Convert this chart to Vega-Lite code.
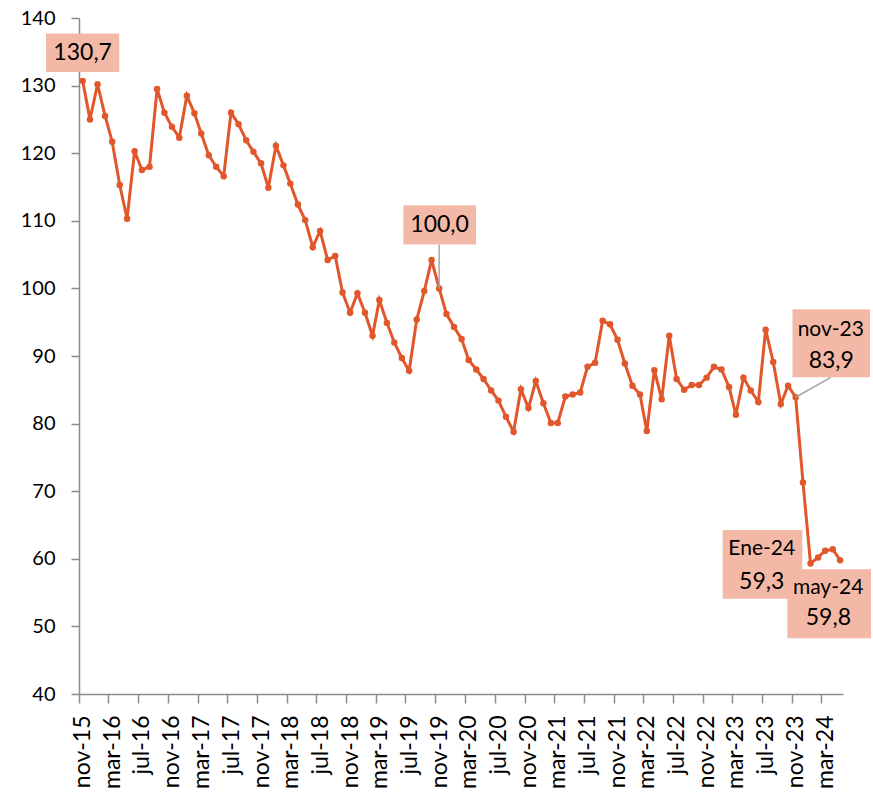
{
  "$schema": "https://vega.github.io/schema/vega-lite/v6.json",
  "width": 764,
  "height": 676,
  "autosize": {"type": "none"},
  "padding": {"left": 79, "top": 18, "right": 30, "bottom": 100},
  "background": "white",
  "config": {
    "view": {"stroke": null},
    "font": "Lato",
    "axis": {
      "domainColor": "#8c8c8c",
      "domainWidth": 1.5,
      "tickColor": "#8c8c8c",
      "tickWidth": 1.5,
      "tickSize": 8,
      "grid": false,
      "labelColor": "#000000",
      "labelFont": "Lato",
      "title": null
    }
  },
  "datasets": {
    "serie": [
      {"fecha": "2015-11-01", "valor": 130.7},
      {"fecha": "2015-12-01", "valor": 125.0},
      {"fecha": "2016-01-01", "valor": 130.2},
      {"fecha": "2016-02-01", "valor": 125.5},
      {"fecha": "2016-03-01", "valor": 121.7},
      {"fecha": "2016-04-01", "valor": 115.3},
      {"fecha": "2016-05-01", "valor": 110.3},
      {"fecha": "2016-06-01", "valor": 120.3},
      {"fecha": "2016-07-01", "valor": 117.5},
      {"fecha": "2016-08-01", "valor": 118.0},
      {"fecha": "2016-09-01", "valor": 129.5},
      {"fecha": "2016-10-01", "valor": 126.0},
      {"fecha": "2016-11-01", "valor": 123.9},
      {"fecha": "2016-12-01", "valor": 122.3},
      {"fecha": "2017-01-01", "valor": 128.5},
      {"fecha": "2017-02-01", "valor": 125.9},
      {"fecha": "2017-03-01", "valor": 122.9},
      {"fecha": "2017-04-01", "valor": 119.7},
      {"fecha": "2017-05-01", "valor": 118.0},
      {"fecha": "2017-06-01", "valor": 116.6},
      {"fecha": "2017-07-01", "valor": 126.0},
      {"fecha": "2017-08-01", "valor": 124.3},
      {"fecha": "2017-09-01", "valor": 121.9},
      {"fecha": "2017-10-01", "valor": 120.2},
      {"fecha": "2017-11-01", "valor": 118.5},
      {"fecha": "2017-12-01", "valor": 114.9},
      {"fecha": "2018-01-01", "valor": 121.1},
      {"fecha": "2018-02-01", "valor": 118.2},
      {"fecha": "2018-03-01", "valor": 115.5},
      {"fecha": "2018-04-01", "valor": 112.4},
      {"fecha": "2018-05-01", "valor": 110.1},
      {"fecha": "2018-06-01", "valor": 106.1},
      {"fecha": "2018-07-01", "valor": 108.5},
      {"fecha": "2018-08-01", "valor": 104.2},
      {"fecha": "2018-09-01", "valor": 104.8},
      {"fecha": "2018-10-01", "valor": 99.4},
      {"fecha": "2018-11-01", "valor": 96.4},
      {"fecha": "2018-12-01", "valor": 99.3},
      {"fecha": "2019-01-01", "valor": 96.4},
      {"fecha": "2019-02-01", "valor": 93.0},
      {"fecha": "2019-03-01", "valor": 98.3},
      {"fecha": "2019-04-01", "valor": 94.9},
      {"fecha": "2019-05-01", "valor": 92.0},
      {"fecha": "2019-06-01", "valor": 89.7},
      {"fecha": "2019-07-01", "valor": 87.8},
      {"fecha": "2019-08-01", "valor": 95.4},
      {"fecha": "2019-09-01", "valor": 99.6},
      {"fecha": "2019-10-01", "valor": 104.2},
      {"fecha": "2019-11-01", "valor": 100.0},
      {"fecha": "2019-12-01", "valor": 96.2},
      {"fecha": "2020-01-01", "valor": 94.3},
      {"fecha": "2020-02-01", "valor": 92.5},
      {"fecha": "2020-03-01", "valor": 89.4},
      {"fecha": "2020-04-01", "valor": 88.0},
      {"fecha": "2020-05-01", "valor": 86.6},
      {"fecha": "2020-06-01", "valor": 84.9},
      {"fecha": "2020-07-01", "valor": 83.4},
      {"fecha": "2020-08-01", "valor": 81.0},
      {"fecha": "2020-09-01", "valor": 78.8},
      {"fecha": "2020-10-01", "valor": 85.1},
      {"fecha": "2020-11-01", "valor": 82.3},
      {"fecha": "2020-12-01", "valor": 86.3},
      {"fecha": "2021-01-01", "valor": 83.0},
      {"fecha": "2021-02-01", "valor": 80.1},
      {"fecha": "2021-03-01", "valor": 80.1},
      {"fecha": "2021-04-01", "valor": 84.0},
      {"fecha": "2021-05-01", "valor": 84.3},
      {"fecha": "2021-06-01", "valor": 84.6},
      {"fecha": "2021-07-01", "valor": 88.4},
      {"fecha": "2021-08-01", "valor": 89.0},
      {"fecha": "2021-09-01", "valor": 95.2},
      {"fecha": "2021-10-01", "valor": 94.7},
      {"fecha": "2021-11-01", "valor": 92.4},
      {"fecha": "2021-12-01", "valor": 88.9},
      {"fecha": "2022-01-01", "valor": 85.6},
      {"fecha": "2022-02-01", "valor": 84.3},
      {"fecha": "2022-03-01", "valor": 78.9},
      {"fecha": "2022-04-01", "valor": 87.9},
      {"fecha": "2022-05-01", "valor": 83.6},
      {"fecha": "2022-06-01", "valor": 93.0},
      {"fecha": "2022-07-01", "valor": 86.6},
      {"fecha": "2022-08-01", "valor": 85.0},
      {"fecha": "2022-09-01", "valor": 85.7},
      {"fecha": "2022-10-01", "valor": 85.7},
      {"fecha": "2022-11-01", "valor": 86.8},
      {"fecha": "2022-12-01", "valor": 88.4},
      {"fecha": "2023-01-01", "valor": 88.0},
      {"fecha": "2023-02-01", "valor": 85.4},
      {"fecha": "2023-03-01", "valor": 81.3},
      {"fecha": "2023-04-01", "valor": 86.8},
      {"fecha": "2023-05-01", "valor": 84.9},
      {"fecha": "2023-06-01", "valor": 83.2},
      {"fecha": "2023-07-01", "valor": 93.9},
      {"fecha": "2023-08-01", "valor": 89.1},
      {"fecha": "2023-09-01", "valor": 82.9},
      {"fecha": "2023-10-01", "valor": 85.6},
      {"fecha": "2023-11-01", "valor": 83.9},
      {"fecha": "2023-12-01", "valor": 71.3},
      {"fecha": "2024-01-01", "valor": 59.3},
      {"fecha": "2024-02-01", "valor": 60.2},
      {"fecha": "2024-03-01", "valor": 61.2},
      {"fecha": "2024-04-01", "valor": 61.4},
      {"fecha": "2024-05-01", "valor": 59.8}
    ],
    "cajas": [
      {"x1": "2015-06-04", "x2": "2016-03-30", "y1": 132.0, "y2": 137.7},
      {"x1": "2019-06-07", "x2": "2020-03-31", "y1": 106.5, "y2": 112.3},
      {"x1": "2023-10-19", "x2": "2024-09-01", "y1": 86.85, "y2": 96.9},
      {"x1": "2023-01-06", "x2": "2023-11-28", "y1": 54.1, "y2": 64.26},
      {"x1": "2023-09-28", "x2": "2024-09-05", "y1": 48.24, "y2": 58.45}
    ],
    "guias": [
      {"x1": "2019-11-01", "y1": 100.0, "x2": "2019-11-01", "y2": 106.5},
      {"x1": "2023-11-01", "y1": 83.9, "x2": "2024-03-24", "y2": 86.85}
    ],
    "numeros": [
      {"fecha": "2015-11-01", "valor": 134.8, "texto": "130,7"},
      {"fecha": "2019-11-03", "valor": 109.4, "texto": "100,0"},
      {"fecha": "2024-03-26", "valor": 89.3, "texto": "83,9"},
      {"fecha": "2023-06-15", "valor": 56.6, "texto": "59,3"},
      {"fecha": "2024-03-14", "valor": 51.2, "texto": "59,8"}
    ],
    "meses": [
      {"fecha": "2024-03-24", "valor": 93.85, "texto": "nov-23"},
      {"fecha": "2023-06-15", "valor": 61.4, "texto": "Ene-24"},
      {"fecha": "2024-03-13", "valor": 55.7, "texto": "may-24"}
    ]
  },
  "layer": [
    {
      "data": {"name": "serie"},
      "mark": {"type": "line", "color": "#E1572B", "strokeWidth": 3},
      "encoding": {
        "x": {
          "field": "fecha",
          "type": "temporal",
          "scale": {
            "type": "utc",
            "domain": [
              {"year": 2015, "month": 10, "date": 17, "utc": true},
              {"year": 2024, "month": 5, "date": 13, "utc": true}
            ]
          },
          "axis": {
            "values": [
              {"year": 2015, "month": 11, "date": 1, "utc": true},
              {"year": 2016, "month": 3, "date": 1, "utc": true},
              {"year": 2016, "month": 7, "date": 1, "utc": true},
              {"year": 2016, "month": 11, "date": 1, "utc": true},
              {"year": 2017, "month": 3, "date": 1, "utc": true},
              {"year": 2017, "month": 7, "date": 1, "utc": true},
              {"year": 2017, "month": 11, "date": 1, "utc": true},
              {"year": 2018, "month": 3, "date": 1, "utc": true},
              {"year": 2018, "month": 7, "date": 1, "utc": true},
              {"year": 2018, "month": 11, "date": 1, "utc": true},
              {"year": 2019, "month": 3, "date": 1, "utc": true},
              {"year": 2019, "month": 7, "date": 1, "utc": true},
              {"year": 2019, "month": 11, "date": 1, "utc": true},
              {"year": 2020, "month": 3, "date": 1, "utc": true},
              {"year": 2020, "month": 7, "date": 1, "utc": true},
              {"year": 2020, "month": 11, "date": 1, "utc": true},
              {"year": 2021, "month": 3, "date": 1, "utc": true},
              {"year": 2021, "month": 7, "date": 1, "utc": true},
              {"year": 2021, "month": 11, "date": 1, "utc": true},
              {"year": 2022, "month": 3, "date": 1, "utc": true},
              {"year": 2022, "month": 7, "date": 1, "utc": true},
              {"year": 2022, "month": 11, "date": 1, "utc": true},
              {"year": 2023, "month": 3, "date": 1, "utc": true},
              {"year": 2023, "month": 7, "date": 1, "utc": true},
              {"year": 2023, "month": 11, "date": 1, "utc": true},
              {"year": 2024, "month": 3, "date": 1, "utc": true}
            ],
            "tickCount": 40,
            "labelExpr": "['ene','feb','mar','abr','may','jun','jul','ago','sep','oct','nov','dic'][utcmonth(datum.value)] + '-' + utcFormat(datum.value, '%y')",
            "labelAngle": 270,
            "labelFontSize": 23,
            "labelPadding": 12,
            "tickOffset": -3.7,
            "labelOffset": 3.7,
            "tickSize": 9,
            "labelOverlap": false,
            "labelFlush": false
          }
        },
        "y": {
          "field": "valor",
          "type": "quantitative",
          "scale": {"domain": [40, 140], "nice": false, "zero": false},
          "axis": {
            "values": [40, 50, 60, 70, 80, 90, 100, 110, 120, 130, 140],
            "tickCount": 20,
            "labelFontSize": 20,
            "labelPadding": 16,
            "tickSize": 8
          }
        }
      }
    },
    {
      "data": {"name": "serie"},
      "mark": {"type": "point", "shape": "circle", "filled": true, "opacity": 1, "color": "#E1572B", "size": 42},
      "encoding": {
        "x": {"field": "fecha", "type": "temporal"},
        "y": {"field": "valor", "type": "quantitative"}
      }
    },
    {
      "data": {"name": "guias"},
      "mark": {"type": "rule", "color": "#A6A6A6", "strokeWidth": 1.5},
      "encoding": {
        "x": {"field": "x1", "type": "temporal"},
        "x2": {"field": "x2"},
        "y": {"field": "y1", "type": "quantitative"},
        "y2": {"field": "y2"}
      }
    },
    {
      "data": {"name": "cajas"},
      "mark": {"type": "rect", "color": "#F3B9A6", "opacity": 1},
      "encoding": {
        "x": {"field": "x1", "type": "temporal"},
        "x2": {"field": "x2"},
        "y": {"field": "y1", "type": "quantitative"},
        "y2": {"field": "y2"}
      }
    },
    {
      "data": {"name": "numeros"},
      "mark": {"type": "text", "font": "Lato", "fontSize": 23, "color": "#000000", "align": "center", "baseline": "middle"},
      "encoding": {
        "x": {"field": "fecha", "type": "temporal"},
        "y": {"field": "valor", "type": "quantitative"},
        "text": {"field": "texto"}
      }
    },
    {
      "data": {"name": "meses"},
      "mark": {"type": "text", "font": "Lato", "fontSize": 21, "color": "#000000", "align": "center", "baseline": "middle"},
      "encoding": {
        "x": {"field": "fecha", "type": "temporal"},
        "y": {"field": "valor", "type": "quantitative"},
        "text": {"field": "texto"}
      }
    }
  ]
}
